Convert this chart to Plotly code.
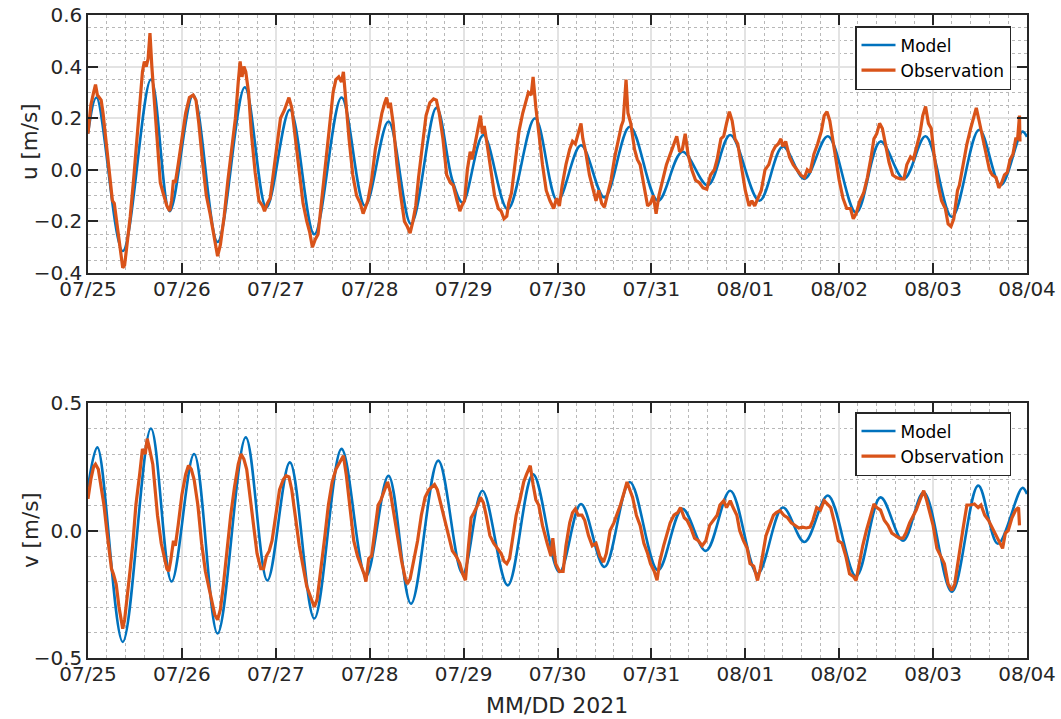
import numpy as np
import pandas as pd
import plotly.graph_objects as go

# ---- data: time in days since 2021-07-25 00:00, velocities in m/s ----
model_u_day = [0.00, 0.09, 0.37, 0.67, 0.87, 1.12, 1.38, 1.67, 1.90, 2.15, 2.41, 2.70,
               2.95, 3.20, 3.44, 3.71, 3.88, 3.99, 4.21, 4.47, 4.76, 5.00, 5.25, 5.50,
               5.77, 6.07, 6.33, 6.60, 6.84, 7.15, 7.40, 7.63, 7.88, 8.18, 8.44, 8.69,
               8.92, 9.20, 9.49, 9.72, 9.95, 10.00]
model_u = [0.14, 0.28, -0.315, 0.35, -0.16, 0.29, -0.28, 0.32, -0.146, 0.233, -0.25, 0.28,
           -0.14, 0.187, -0.21, 0.24, -0.04, -0.127, 0.135, -0.153, 0.20, -0.12, 0.095, -0.107,
           0.167, -0.12, 0.07, -0.06, 0.135, -0.12, 0.09, -0.035, 0.13, -0.166, 0.11, -0.035,
           0.13, -0.183, 0.155, -0.06, 0.148, 0.128]

obs_u_day = [0.00, 0.03, 0.06, 0.08, 0.10, 0.12, 0.14, 0.16, 0.19, 0.22, 0.26, 0.28, 0.31, 0.35,
             0.37, 0.39, 0.42, 0.45, 0.49, 0.52, 0.56, 0.58, 0.60, 0.62, 0.64, 0.66, 0.68, 0.70,
             0.73, 0.77, 0.80, 0.84, 0.87, 0.89, 0.91, 0.93, 0.96, 1.00, 1.04, 1.08, 1.12, 1.15,
             1.18, 1.22, 1.26, 1.30, 1.33, 1.36, 1.38, 1.41, 1.45, 1.49, 1.53, 1.57, 1.60, 1.62,
             1.64, 1.66, 1.68, 1.71, 1.74, 1.78, 1.82, 1.86, 1.88, 1.91, 1.94, 1.97, 2.01, 2.05,
             2.09, 2.12, 2.14, 2.17, 2.21, 2.25, 2.29, 2.33, 2.36, 2.39, 2.42, 2.45, 2.49, 2.53,
             2.57, 2.61, 2.64, 2.67, 2.70, 2.72, 2.74, 2.78, 2.82, 2.86, 2.90, 2.93, 2.95, 2.98,
             3.02, 3.06, 3.10, 3.13, 3.16, 3.18, 3.20, 3.22, 3.25, 3.29, 3.33, 3.37, 3.40, 3.43,
             3.46, 3.49, 3.52, 3.56, 3.60, 3.64, 3.68, 3.71, 3.74, 3.78, 3.82, 3.86, 3.89, 3.93,
             3.96, 3.98, 4.01, 4.04, 4.07, 4.09, 4.12, 4.16, 4.18, 4.20, 4.22, 4.25, 4.29, 4.33,
             4.37, 4.40, 4.43, 4.46, 4.48, 4.51, 4.55, 4.59, 4.63, 4.66, 4.69, 4.72, 4.74, 4.77,
             4.80, 4.84, 4.88, 4.92, 4.96, 4.99, 5.02, 5.05, 5.09, 5.13, 5.16, 5.19, 5.22, 5.25,
             5.27, 5.30, 5.34, 5.38, 5.41, 5.44, 5.47, 5.50, 5.53, 5.57, 5.61, 5.65, 5.68, 5.70,
             5.73, 5.75, 5.78, 5.82, 5.85, 5.88, 5.92, 5.96, 5.99, 6.02, 6.05, 6.08, 6.12, 6.16,
             6.19, 6.23, 6.27, 6.30, 6.33, 6.36, 6.39, 6.43, 6.47, 6.51, 6.55, 6.59, 6.63, 6.67,
             6.70, 6.74, 6.77, 6.80, 6.83, 6.86, 6.89, 6.92, 6.96, 7.00, 7.04, 7.07, 7.10, 7.13,
             7.17, 7.21, 7.25, 7.29, 7.32, 7.35, 7.38, 7.40, 7.43, 7.47, 7.51, 7.55, 7.59, 7.63,
             7.66, 7.69, 7.73, 7.77, 7.81, 7.84, 7.87, 7.90, 7.93, 7.96, 8.00, 8.04, 8.08, 8.12,
             8.15, 8.18, 8.22, 8.26, 8.30, 8.34, 8.37, 8.40, 8.43, 8.46, 8.49, 8.53, 8.57, 8.61,
             8.65, 8.69, 8.72, 8.76, 8.79, 8.83, 8.86, 8.89, 8.92, 8.95, 8.98, 9.01, 9.05, 9.09,
             9.13, 9.16, 9.19, 9.22, 9.26, 9.28, 9.32, 9.36, 9.40, 9.43, 9.46, 9.49, 9.52, 9.56,
             9.60, 9.63, 9.67, 9.70, 9.73, 9.76, 9.79, 9.82, 9.85, 9.88, 9.90, 9.92, 9.925]
obs_u = [0.14, 0.25, 0.30, 0.33, 0.29, 0.28, 0.27, 0.22, 0.12, 0.00, -0.12, -0.13, -0.22, -0.33,
         -0.38, -0.37, -0.28, -0.18, -0.02, 0.12, 0.30, 0.38, 0.42, 0.40, 0.43, 0.53, 0.40, 0.30,
         0.12, -0.05, -0.09, -0.14, -0.16, -0.12, -0.04, -0.05, 0.02, 0.12, 0.22, 0.28, 0.29, 0.27,
         0.18, 0.03, -0.10, -0.17, -0.23, -0.30, -0.335, -0.29, -0.18, -0.04, 0.08, 0.20, 0.34, 0.42,
         0.36, 0.40, 0.38, 0.30, 0.14, -0.01, -0.12, -0.14, -0.16, -0.13, -0.11, -0.02, 0.10, 0.20,
         0.23, 0.26, 0.28, 0.24, 0.11, -0.02, -0.13, -0.20, -0.24, -0.30, -0.27, -0.25, -0.12, 0.02,
         0.16, 0.30, 0.35, 0.36, 0.34, 0.38, 0.28, 0.12, -0.02, -0.10, -0.13, -0.17, -0.15, -0.12,
         -0.04, 0.08, 0.16, 0.22, 0.26, 0.28, 0.24, 0.26, 0.18, 0.02, -0.10, -0.20, -0.22, -0.245,
         -0.20, -0.14, -0.03, 0.10, 0.21, 0.26, 0.275, 0.27, 0.22, 0.12, -0.02, -0.05, -0.06, -0.12,
         -0.16, -0.14, -0.12, 0.00, 0.07, 0.04, 0.10, 0.18, 0.21, 0.14, 0.17, 0.10, 0.00, -0.10,
         -0.15, -0.16, -0.19, -0.18, -0.13, -0.09, 0.03, 0.15, 0.22, 0.26, 0.30, 0.29, 0.36, 0.24,
         0.14, 0.02, -0.08, -0.12, -0.15, -0.11, -0.14, -0.06, 0.02, 0.08, 0.11, 0.10, 0.14, 0.18,
         0.12, 0.07, -0.02, -0.08, -0.12, -0.08, -0.13, -0.145, -0.10, -0.04, 0.05, 0.12, 0.17, 0.19,
         0.35, 0.22, 0.18, 0.08, 0.04, 0.02, -0.06, -0.14, -0.13, -0.10, -0.17, -0.10, -0.04, 0.02,
         0.05, 0.09, 0.13, 0.07, 0.08, 0.14, 0.06, 0.00, -0.04, -0.05, -0.07, -0.075, -0.02, 0.00,
         0.04, 0.12, 0.13, 0.18, 0.225, 0.19, 0.12, 0.10, 0.00, -0.08, -0.14, -0.12, -0.14, -0.115,
         -0.08, 0.00, 0.02, 0.07, 0.09, 0.10, 0.12, 0.09, 0.11, 0.05, 0.02, 0.00, -0.02, -0.03,
         0.00, -0.01, 0.06, 0.10, 0.15, 0.21, 0.225, 0.19, 0.12, 0.05, -0.04, -0.11, -0.15, -0.15,
         -0.19, -0.17, -0.12, -0.09, -0.03, 0.05, 0.12, 0.14, 0.18, 0.16, 0.10, 0.03, -0.02, -0.03,
         -0.035, -0.035, 0.02, 0.05, 0.04, 0.10, 0.14, 0.21, 0.245, 0.18, 0.16, 0.06, -0.05, -0.12,
         -0.15, -0.21, -0.22, -0.19, -0.08, -0.06, 0.02, 0.10, 0.16, 0.20, 0.24, 0.19, 0.14, 0.08,
         0.00, -0.02, -0.03, -0.07, -0.05, -0.02, -0.01, 0.04, 0.06, 0.12, 0.12, 0.21, 0.11]

model_v_day = [0.00, 0.10, 0.37, 0.67, 0.89, 1.13, 1.38, 1.68, 1.91, 2.15, 2.41, 2.70,
               2.96, 3.20, 3.44, 3.73, 3.99, 4.20, 4.47, 4.74, 5.02, 5.25, 5.50, 5.77,
               6.07, 6.33, 6.58, 6.84, 7.13, 7.40, 7.63, 7.88, 8.18, 8.44, 8.68, 8.90,
               9.20, 9.48, 9.69, 9.95, 10.00]
model_v = [0.17, 0.326, -0.437, 0.40, -0.20, 0.30, -0.404, 0.365, -0.196, 0.267, -0.345, 0.32,
           -0.18, 0.215, -0.287, 0.274, -0.17, 0.156, -0.215, 0.22, -0.163, 0.104, -0.143, 0.19,
           -0.156, 0.085, -0.08, 0.156, -0.17, 0.09, -0.045, 0.137, -0.18, 0.13, -0.04, 0.15,
           -0.24, 0.176, -0.052, 0.167, 0.143]

obs_v_day = [0.00, 0.03, 0.06, 0.08, 0.11, 0.14, 0.17, 0.20, 0.23, 0.25, 0.27, 0.30, 0.33, 0.36,
             0.37, 0.39, 0.42, 0.45, 0.48, 0.51, 0.55, 0.58, 0.61, 0.63, 0.65, 0.67, 0.69, 0.71,
             0.74, 0.78, 0.81, 0.84, 0.86, 0.88, 0.91, 0.93, 0.96, 1.00, 1.04, 1.07, 1.10, 1.13,
             1.17, 1.21, 1.25, 1.28, 1.31, 1.35, 1.38, 1.41, 1.44, 1.48, 1.52, 1.56, 1.60, 1.63,
             1.66, 1.69, 1.72, 1.76, 1.80, 1.84, 1.87, 1.90, 1.93, 1.96, 2.00, 2.04, 2.08, 2.11,
             2.14, 2.17, 2.21, 2.25, 2.29, 2.33, 2.37, 2.41, 2.44, 2.48, 2.52, 2.56, 2.60, 2.64,
             2.67, 2.70, 2.72, 2.75, 2.79, 2.83, 2.87, 2.91, 2.94, 2.96, 2.99, 3.02, 3.06, 3.09,
             3.12, 3.15, 3.19, 3.22, 3.26, 3.30, 3.34, 3.38, 3.40, 3.43, 3.47, 3.51, 3.55, 3.59,
             3.63, 3.66, 3.69, 3.72, 3.76, 3.80, 3.84, 3.88, 3.92, 3.96, 3.99, 4.02, 4.05, 4.08,
             4.11, 4.15, 4.18, 4.21, 4.24, 4.28, 4.32, 4.36, 4.40, 4.43, 4.46, 4.49, 4.52, 4.56,
             4.60, 4.64, 4.67, 4.71, 4.74, 4.77, 4.80, 4.84, 4.89, 4.93, 4.95, 4.98, 5.02, 5.06,
             5.09, 5.13, 5.16, 5.19, 5.22, 5.26, 5.29, 5.33, 5.37, 5.41, 5.45, 5.49, 5.52, 5.56,
             5.60, 5.64, 5.67, 5.71, 5.74, 5.77, 5.80, 5.84, 5.88, 5.92, 5.96, 5.99, 6.03, 6.06,
             6.09, 6.13, 6.17, 6.20, 6.24, 6.28, 6.31, 6.35, 6.38, 6.42, 6.46, 6.50, 6.54, 6.58,
             6.62, 6.66, 6.70, 6.73, 6.77, 6.80, 6.84, 6.87, 6.91, 6.94, 6.98, 7.02, 7.05, 7.09,
             7.13, 7.16, 7.19, 7.22, 7.26, 7.30, 7.33, 7.37, 7.41, 7.45, 7.49, 7.53, 7.57, 7.61,
             7.65, 7.69, 7.72, 7.76, 7.80, 7.84, 7.88, 7.91, 7.95, 7.99, 8.03, 8.07, 8.11, 8.15,
             8.18, 8.21, 8.25, 8.29, 8.33, 8.37, 8.40, 8.44, 8.48, 8.52, 8.56, 8.60, 8.64, 8.68,
             8.71, 8.75, 8.79, 8.82, 8.86, 8.90, 8.93, 8.96, 9.00, 9.04, 9.08, 9.12, 9.16, 9.20,
             9.23, 9.26, 9.29, 9.32, 9.36, 9.40, 9.44, 9.48, 9.51, 9.55, 9.59, 9.63, 9.67, 9.71,
             9.74, 9.77, 9.80, 9.84, 9.88, 9.91, 9.92]
obs_v = [0.124, 0.20, 0.25, 0.26, 0.24, 0.17, 0.10, 0.00, -0.10, -0.15, -0.17, -0.21, -0.30, -0.37,
         -0.385, -0.35, -0.26, -0.15, -0.04, 0.10, 0.22, 0.32, 0.30, 0.36, 0.33, 0.30, 0.26, 0.18,
         0.06, -0.05, -0.10, -0.15, -0.16, -0.12, -0.04, -0.06, 0.02, 0.14, 0.22, 0.255, 0.24, 0.20,
         0.10, -0.05, -0.16, -0.21, -0.27, -0.33, -0.35, -0.31, -0.22, -0.08, 0.06, 0.17, 0.26, 0.30,
         0.28, 0.24, 0.15, 0.02, -0.09, -0.15, -0.15, -0.10, -0.08, -0.04, 0.06, 0.16, 0.20, 0.215,
         0.21, 0.16, 0.05, -0.06, -0.14, -0.22, -0.26, -0.30, -0.27, -0.16, -0.03, 0.10, 0.19, 0.24,
         0.26, 0.28, 0.293, 0.22, 0.08, -0.04, -0.10, -0.14, -0.17, -0.20, -0.11, -0.10, 0.02, 0.10,
         0.12, 0.15, 0.19, 0.15, 0.06, -0.04, -0.12, -0.19, -0.21, -0.19, -0.12, -0.04, 0.06, 0.13,
         0.16, 0.17, 0.18, 0.16, 0.10, 0.03, -0.03, -0.08, -0.10, -0.13, -0.17, -0.195, -0.07, 0.05,
         0.07, 0.10, 0.13, 0.11, 0.06, -0.02, -0.05, -0.07, -0.09, -0.12, -0.13, -0.11, -0.04, 0.06,
         0.12, 0.19, 0.22, 0.254, 0.18, 0.12, 0.10, 0.02, -0.05, -0.10, -0.03, -0.13, -0.16, -0.16,
         -0.06, 0.03, 0.07, 0.085, 0.06, 0.06, 0.04, -0.02, -0.06, -0.05, -0.10, -0.124, -0.09, 0.00,
         0.03, 0.07, 0.10, 0.15, 0.19, 0.16, 0.13, 0.06, 0.02, -0.05, -0.09, -0.13, -0.16, -0.195,
         -0.12, -0.06, -0.01, 0.03, 0.06, 0.07, 0.09, 0.05, 0.04, 0.01, -0.03, -0.04, -0.06, -0.04,
         0.02, 0.04, 0.06, 0.10, 0.117, 0.09, 0.117, 0.09, 0.06, 0.00, -0.04, -0.07, -0.13, -0.14,
         -0.196, -0.15, -0.08, -0.02, 0.02, 0.06, 0.07, 0.078, 0.06, 0.05, 0.03, 0.02, 0.01, 0.013,
         0.01, 0.013, 0.04, 0.09, 0.08, 0.117, 0.10, 0.09, 0.03, -0.04, -0.05, -0.10, -0.17, -0.18,
         -0.196, -0.13, -0.06, 0.00, 0.05, 0.104, 0.09, 0.08, 0.04, 0.02, -0.01, -0.02, -0.03, -0.03,
         -0.01, 0.03, 0.06, 0.08, 0.12, 0.156, 0.12, 0.08, 0.02, -0.07, -0.10, -0.13, -0.21, -0.235,
         -0.21, -0.13, -0.07, 0.01, 0.10, 0.10, 0.104, 0.09, 0.10, 0.06, 0.04, 0.01, -0.02, -0.05,
         -0.07, -0.01, 0.00, 0.05, 0.08, 0.09, 0.02]

start = pd.Timestamp("2021-07-25")
end = pd.Timestamp("2021-08-04")
tick_days = pd.date_range(start, end, freq="D")
tick_text = [d.strftime("%m/%d") for d in tick_days]


def to_time(days):
    return start + pd.to_timedelta(np.asarray(days), unit="D")


BLUE = "#0072BD"
ORANGE = "#D95319"
FONT = "DejaVu Sans, Verdana, sans-serif"
AXIS_COLOR = "#262626"
GRID = "#e3e3e3"
MINOR_GRID = "#b8b8b8"

fig = go.Figure()

panels = [
    ("x", "y", model_u_day, model_u, obs_u_day, obs_u, "legend"),
    ("x2", "y2", model_v_day, model_v, obs_v_day, obs_v, "legend2"),
]
for xa, ya, md, mv, od, ov, leg in panels:
    fig.add_trace(go.Scatter(x=to_time(md), y=mv, mode="lines", name="Model",
                             line=dict(color=BLUE, width=2.6, shape="spline", smoothing=1.0),
                             xaxis=xa, yaxis=ya, legend=leg))
    fig.add_trace(go.Scatter(x=to_time(od), y=ov, mode="lines", name="Observation",
                             line=dict(color=ORANGE, width=3.2),
                             xaxis=xa, yaxis=ya, legend=leg))

W, H = 1061, 719
x_dom = [88 / W, 1027 / W]
top_dom = [(H - 273) / H, (H - 15) / H]
bot_dom = [(H - 658) / H, (H - 403) / H]

common_x = dict(
    type="date", range=[start, end], domain=x_dom, automargin=False,
    tickmode="array", tickvals=tick_days, ticktext=tick_text,
    ticks="inside", ticklen=10, tickwidth=1.5, tickcolor=AXIS_COLOR,
    ticklabelstandoff=-3,
    showline=True, linecolor=AXIS_COLOR, linewidth=1.5, mirror="ticks",
    showgrid=True, gridcolor=GRID, gridwidth=1.5,
    minor=dict(dtick=0.2 * 86400000, tick0=start, showgrid=True, gridcolor=MINOR_GRID,
               griddash="dot", gridwidth=1, ticks=""),
    tickfont=dict(family=FONT, size=20, color=AXIS_COLOR),
    zeroline=False,
)

common_y = dict(
    automargin=False,
    ticks="inside", ticklen=10, tickwidth=1.5, tickcolor=AXIS_COLOR,
    showline=True, linecolor=AXIS_COLOR, linewidth=1.5, mirror="ticks",
    showgrid=True, gridcolor=GRID, gridwidth=1.5,
    tickfont=dict(family=FONT, size=20, color=AXIS_COLOR),
    zeroline=False,
)

legend_style = dict(xanchor="left", yanchor="top", bgcolor="white",
                    bordercolor=AXIS_COLOR, borderwidth=1.5, itemwidth=34,
                    font=dict(family=FONT, size=17, color="black"), tracegroupgap=0)

fig.update_layout(
    width=W, height=H,
    margin=dict(l=0, r=0, t=0, b=0, autoexpand=False),
    paper_bgcolor="white", plot_bgcolor="white",
    font=dict(family=FONT, color=AXIS_COLOR),
    xaxis=dict(**common_x, anchor="y"),
    yaxis=dict(**common_y, domain=top_dom, anchor="x", range=[-0.4, 0.6], dtick=0.2,
               tick0=0, tickformat=".1f",
               minor=dict(dtick=0.05, showgrid=True, gridcolor=MINOR_GRID,
                          griddash="dot", gridwidth=1, ticks="")),
    xaxis2=dict(**common_x, anchor="y2"),
    yaxis2=dict(**common_y, domain=bot_dom, anchor="x2", range=[-0.5, 0.5], dtick=0.5,
                tick0=0, tickformat=".1f",
                minor=dict(dtick=0.1, showgrid=True, gridcolor=MINOR_GRID,
                           griddash="dot", gridwidth=1, ticks="")),
    legend=dict(x=855 / W, y=(H - 26) / H, **legend_style),
    legend2=dict(x=855 / W, y=(H - 412) / H, **legend_style),
    showlegend=True,
)

label_font = dict(family=FONT, size=21.5, color=AXIS_COLOR)
fig.add_annotation(text="u [m/s]", x=30 / W, y=(H - 142) / H, xref="paper", yref="paper",
                   xanchor="center", yanchor="middle", textangle=-90, showarrow=False,
                   font=label_font)
fig.add_annotation(text="v [m/s]", x=30 / W, y=(H - 530) / H, xref="paper", yref="paper",
                   xanchor="center", yanchor="middle", textangle=-90, showarrow=False,
                   font=label_font)
fig.add_annotation(text="MM/DD 2021", x=557 / W, y=(H - 705) / H, xref="paper", yref="paper",
                   xanchor="center", yanchor="middle", showarrow=False,
                   font=dict(family=FONT, size=22, color=AXIS_COLOR))

fig.write_html("out.html")
